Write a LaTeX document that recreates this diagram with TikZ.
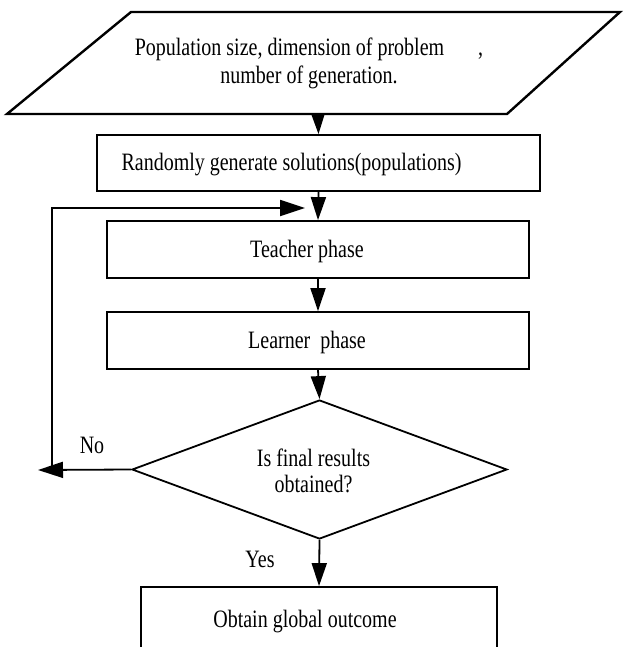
\documentclass[tikz,border=0pt]{standalone}
\usepackage{fontspec}
\setmainfont[FakeStretch=0.8]{Liberation Serif}
\usetikzlibrary{arrows.meta,shapes.geometric}
\begin{document}
\begin{tikzpicture}[x=1pt,y=-1pt,
  box/.style={draw,line width=1.8pt,inner sep=0pt,minimum width=422pt,minimum height=57pt,
    font=\fontsize{25}{28}\selectfont,text height=16pt,text depth=0pt},
  arr/.style={line width=1.8pt,-{Triangle[length=23pt,width=15pt]}},
  txt/.style={font=\fontsize{25}{28}\selectfont,inner sep=0pt,align=center}]
\clip (0,0) rectangle (623,647);
% input parallelogram
\coordinate (p1) at (131,12);
\coordinate (p2) at (620,12);
\coordinate (p3) at (507,114);
\coordinate (p4) at (7,114);
\draw[line width=2.4pt] (p1) -- (p2) -- (p3) -- (p4) -- cycle;
\node[txt] (inp) at (309,63) {Population size, dimension of problem\hspace*{34pt},\\number of generation.};
\coordinate (inpb) at (318,114);
% boxes
\node[box,minimum width=443pt,minimum height=56pt] (b1) at (318.5,163) {Randomly generate solutions(populations)\hspace*{54pt}};
\node[box] (teach) at (318,249.5) {Teacher phase\hspace*{22pt}};
\node[box] (learn) at (318,340.5) {Learner~ phase\hspace*{22pt}};
\node[draw,diamond,line width=1.8pt,inner sep=0pt,minimum width=375pt,minimum height=139pt,shape aspect=2.7] (dec) at (319.5,469.5) {};
\node[txt,font=\fontsize{25}{26}\selectfont] (dect) at (313.5,470.5) {Is final results\\obtained?};
\node[box,minimum width=356pt,minimum height=64pt] (fin) at (319,619) {Obtain global outcome\hspace*{28pt}};
% labels
\node[txt] (no) at (92,445) {No};
\node[txt] (yes) at (260,559.5) {Yes};
% loop coordinates
\coordinate (lb) at (52,470);
\coordinate (lt) at (52,208);
\coordinate (le) at (305,208);
\coordinate (noend) at (38,470);
% connectors
\draw[line width=1.8pt,-{Triangle[length=20pt,width=13pt]}] (inpb) -- (b1.north);
\draw[arr] (b1.south) -- (teach.north);
\draw[arr] (teach.south) -- (learn.north);
\draw[arr] (learn.south) -- (dec.north);
\draw[arr,-{Triangle[length=25pt,width=16pt]}] (dec.west) -- (noend);
\draw[arr,-{Triangle[length=25pt,width=16pt]}] (lb) -- (lt) -- (le);
\draw[arr] (dec.south) -- (fin.north);
\end{tikzpicture}
\end{document}
